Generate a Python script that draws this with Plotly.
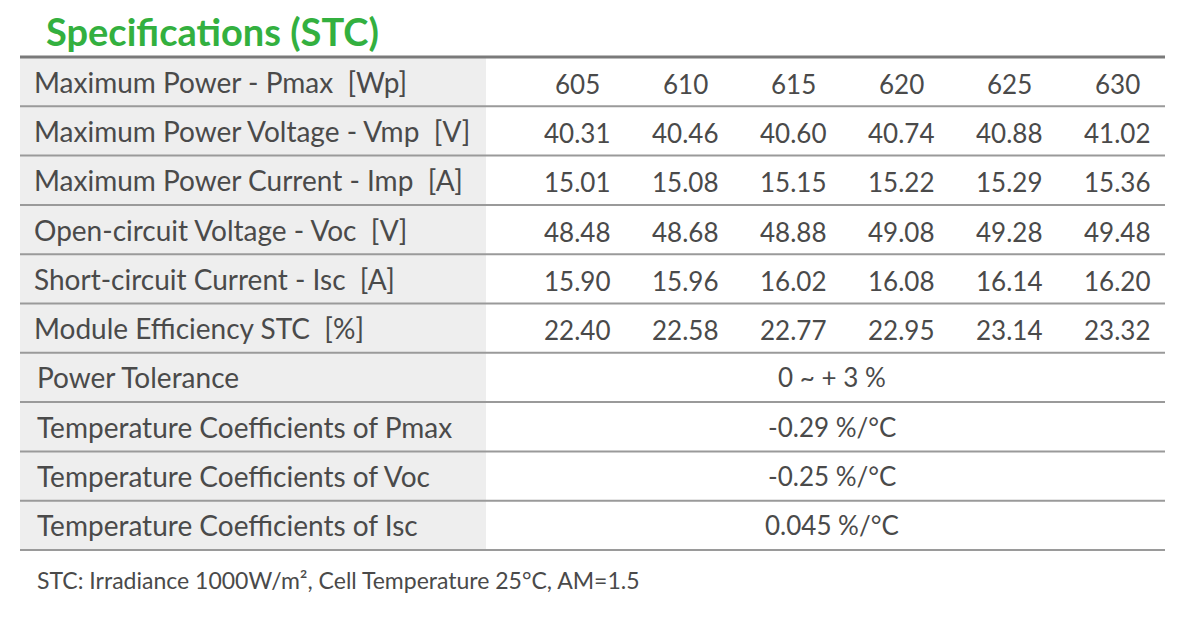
import plotly.graph_objects as go

TITLE = "Specifications (STC)"
FOOTNOTE = "STC: Irradiance 1000W/m², Cell Temperature 25°C, AM=1.5"

row_labels = [
    "Maximum Power - Pmax  [Wp]",
    "Maximum Power Voltage - Vmp  [V]",
    "Maximum Power Current - Imp  [A]",
    "Open-circuit Voltage - Voc  [V]",
    "Short-circuit Current - Isc  [A]",
    "Module Efficiency STC  [%]",
    "Power Tolerance",
    "Temperature Coefficients of Pmax",
    "Temperature Coefficients of Voc",
    "Temperature Coefficients of Isc",
]

pmax = ["605", "610", "615", "620", "625", "630"]
vmp = ["40.31", "40.46", "40.60", "40.74", "40.88", "41.02"]
imp = ["15.01", "15.08", "15.15", "15.22", "15.29", "15.36"]
voc = ["48.48", "48.68", "48.88", "49.08", "49.28", "49.48"]
isc = ["15.90", "15.96", "16.02", "16.08", "16.14", "16.20"]
eff = ["22.40", "22.58", "22.77", "22.95", "23.14", "23.32"]
per_model = [pmax, vmp, imp, voc, isc, eff]

shared = ["0 ~ + 3 %", "-0.29 %/°C", "-0.25 %/°C", "0.045 %/°C"]

W, H = 1182, 617
OFF = 8  # page body margin
FONT = "Lato"
TEXT = "#4a4a4a"

left, right, label_right = 20, 1165, 486
top, row_h = 57, 49.3
col0, col_step = 577, 108
merged_x = 832

fig = go.Figure()
fig.add_trace(go.Scatter(x=[OFF, W], y=[OFF, H], mode="markers",
                         marker=dict(opacity=0), hoverinfo="skip", showlegend=False))

shapes = []
annotations = []

n = len(row_labels)
# grey label column
shapes.append(dict(type="rect", x0=left, x1=label_right, y0=top, y1=top + n * row_h,
                   fillcolor="#eeeeee", line=dict(width=0), layer="below"))

for i in range(n + 1):
    y = top + i * row_h
    shapes.append(dict(type="line", x0=left, x1=right, y0=y, y1=y,
                       line=dict(color="#7a7a7a" if i == 0 else "#9a9a9a",
                                 width=3 if i == 0 else 2)))

for i, label in enumerate(row_labels):
    yc = top + (i + 0.5) * row_h
    annotations.append(dict(x=32 if i < 6 else 35, y=yc, text=label, xanchor="left",
                            yanchor="middle", showarrow=False,
                            font=dict(family=FONT, size=28, color=TEXT)))
    if i < len(per_model):
        for j, v in enumerate(per_model[i]):
            annotations.append(dict(x=col0 + j * col_step, y=yc + 2, text=v,
                                    xanchor="center", yanchor="middle", showarrow=False,
                                    font=dict(family=FONT, size=26, color=TEXT)))
    else:
        annotations.append(dict(x=merged_x, y=yc, text=shared[i - len(per_model)],
                                xanchor="center", yanchor="middle", showarrow=False,
                                font=dict(family=FONT, size=26, color=TEXT)))

annotations.append(dict(x=45, y=31, text="<b>" + TITLE + "</b>", xanchor="left",
                        yanchor="middle", showarrow=False, borderpad=0,
                        font=dict(family=FONT, size=38, color="#33b03f")))
annotations.append(dict(x=35, y=580, text=FOOTNOTE, xanchor="left", yanchor="middle",
                        showarrow=False, font=dict(family=FONT, size=23, color=TEXT)))

fig.update_layout(
    width=W, height=H,
    margin=dict(l=0, r=0, t=0, b=0),
    paper_bgcolor="white", plot_bgcolor="white",
    xaxis=dict(range=[OFF, W + OFF], visible=False, fixedrange=True),
    yaxis=dict(range=[H + OFF, OFF], visible=False, fixedrange=True),
    shapes=shapes, annotations=annotations,
)

fig.write_html("out.html", config={"displayModeBar": False})
